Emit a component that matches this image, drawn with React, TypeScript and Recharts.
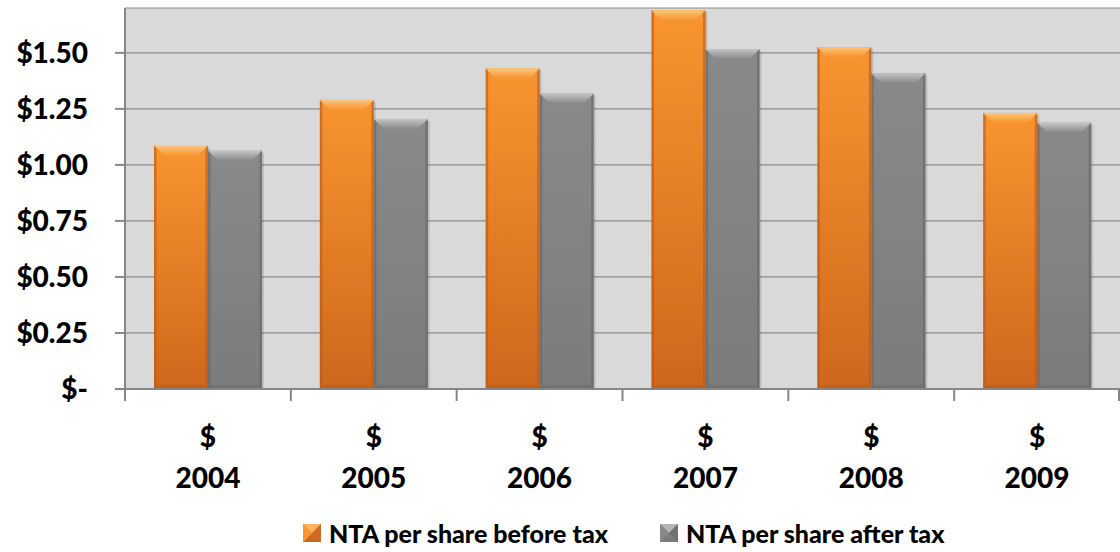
import React from 'react';
import { Bar, BarChart, CartesianGrid, Legend, XAxis, YAxis } from 'recharts';

const years = ['2004', '2005', '2006', '2007', '2008', '2009'];
const beforeTax = [1.085, 1.29, 1.43, 1.69, 1.525, 1.232];
const afterTax = [1.063, 1.205, 1.318, 1.517, 1.409, 1.188];
const yTicks = [0, 0.25, 0.5, 0.75, 1.0, 1.25, 1.5];
const seriesNames = ['NTA per share before tax', 'NTA per share after tax'];

const data = years.map((year, i) => ({ year, before: beforeTax[i], after: afterTax[i] }));

const W = 1120;
const H = 552;
const Y_W = 125;
const FONT = 'Lato, "Open Sans", sans-serif';
const WEIGHT = 900;

const palette = {
  before: { top: '#F8952F', bottom: '#CE671C', bevel: '#FBB261', edge: '#B8591A' },
  after: { top: '#898989', bottom: '#7C7C7C', bevel: '#B4B4B4', edge: '#666666' },
};

const BevelBar = (key: 'before' | 'after') => (props: any) => {
  const { x, y, width, height } = props;
  if (!height || height <= 0) return null;
  const c = palette[key];
  const b = Math.min(10, height / 2);
  return (
    <g>
      <rect x={x + 2} y={y + 2} width={width} height={height - 2} fill="#000" opacity={0.12} />
      <rect x={x} y={y} width={width} height={height} fill={`url(#grad-${key})`} />
      <rect x={x} y={y} width={2.5} height={height} fill={c.edge} opacity={0.6} />
      <rect x={x + width - 2.5} y={y} width={2.5} height={height} fill={c.edge} opacity={0.6} />
      <polygon
        points={`${x},${y} ${x + width},${y} ${x + width - b},${y + b} ${x + b},${y + b}`}
        fill={`url(#bevel-${key})`}
      />
      <polygon
        points={`${x},${y + height} ${x + width},${y + height} ${x + width - 4},${y + height - 4} ${x + 4},${y + height - 4}`}
        fill={c.edge}
        opacity={0.5}
      />
    </g>
  );
};

const step = (W - Y_W) / years.length;

const YearTick = (props: any) => {
  const { x, y, payload, index } = props;
  const last = index === years.length - 1;
  return (
    <g>
      <line x1={x - step / 2} x2={x - step / 2} y1={y} y2={y + 12} stroke="#868686" strokeWidth={2} />
      {last && <line x1={x + step / 2 - 1} x2={x + step / 2 - 1} y1={y} y2={y + 12} stroke="#868686" strokeWidth={2} />}
      <text x={x} y={y + 58} textAnchor="middle" fontFamily={FONT} fontWeight={WEIGHT} fontSize={28} fill="#000">$</text>
      <text x={x} y={y + 99} textAnchor="middle" fontFamily={FONT} fontWeight={WEIGHT} fontSize={28} fill="#000">{payload.value}</text>
    </g>
  );
};

const LegendIcon = ({ k }: { k: 'before' | 'after' }) => {
  const c = palette[k];
  return (
    <svg width={18} height={18} style={{ marginRight: 8 }}>
      <rect x={0} y={0} width={18} height={18} fill={c.top} />
      <polygon points="0,0 18,0 9,9" fill={c.bevel} />
      <polygon points="0,18 18,18 9,9" fill={c.bottom} />
      <polygon points="0,0 0,18 9,9" fill={c.top} />
      <polygon points="18,0 18,18 9,9" fill={c.edge} opacity={0.7} />
    </svg>
  );
};

const LegendBox = () => (
  <div
    style={{
      height: 53,
      display: 'flex',
      alignItems: 'center',
      paddingLeft: 303,
      paddingTop: 14,
      boxSizing: 'border-box',
      fontFamily: FONT,
      fontWeight: WEIGHT,
      fontSize: 25,
      color: '#000',
    }}
  >
    <LegendIcon k="before" />
    <span style={{ marginRight: 52 }}>{seriesNames[0]}</span>
    <LegendIcon k="after" />
    <span>{seriesNames[1]}</span>
  </div>
);

const fmt = (v: number) => (v === 0 ? '$-' : `$${v.toFixed(2)}`);

export default function App() {
  return (
    <div style={{ position: 'absolute', left: 0, top: 0, width: W, height: H, background: '#fff' }}>
      <BarChart
        width={W}
        height={H}
        data={data}
        margin={{ top: 8, right: 0, left: 0, bottom: 0 }}
        barCategoryGap="17.5%"
        barGap={0}
      >
        <defs>
          <linearGradient id="grad-before" x1="0" y1="0" x2="0" y2="1">
            <stop offset="0%" stopColor={palette.before.top} />
            <stop offset="100%" stopColor={palette.before.bottom} />
          </linearGradient>
          <linearGradient id="grad-after" x1="0" y1="0" x2="0" y2="1">
            <stop offset="0%" stopColor={palette.after.top} />
            <stop offset="100%" stopColor={palette.after.bottom} />
          </linearGradient>
          <linearGradient id="bevel-before" x1="0" y1="0" x2="0" y2="1">
            <stop offset="0%" stopColor="#FDC47E" />
            <stop offset="100%" stopColor={palette.before.top} />
          </linearGradient>
          <linearGradient id="bevel-after" x1="0" y1="0" x2="0" y2="1">
            <stop offset="0%" stopColor="#C4C4C4" />
            <stop offset="100%" stopColor={palette.after.top} />
          </linearGradient>
        </defs>
        <CartesianGrid vertical={false} fill="#D9D9D9" stroke="#8C8C8C" strokeWidth={1.2} />
        <XAxis
          dataKey="year"
          height={110}
          tickLine={false}
          tickSize={0}
          tickMargin={0}
          axisLine={{ stroke: '#868686', strokeWidth: 2 }}
          tick={<YearTick />}
          interval={0}
        />
        <YAxis
          width={Y_W}
          domain={[0, 1.7]}
          ticks={yTicks}
          tickFormatter={fmt}
          tickSize={10}
          tickMargin={27}
          tickLine={{ stroke: '#868686', strokeWidth: 2 }}
          axisLine={{ stroke: '#868686', strokeWidth: 2 }}
          tick={{ fontFamily: FONT, fontWeight: WEIGHT, fontSize: 28, fill: '#000' }}
          allowDataOverflow
        />
        <Legend verticalAlign="bottom" height={53} content={<LegendBox />} />
        <Bar dataKey="before" name={seriesNames[0]} fill={palette.before.top} shape={BevelBar('before')} isAnimationActive={false} />
        <Bar dataKey="after" name={seriesNames[1]} fill={palette.after.top} shape={BevelBar('after')} isAnimationActive={false} />
      </BarChart>
    </div>
  );
}
